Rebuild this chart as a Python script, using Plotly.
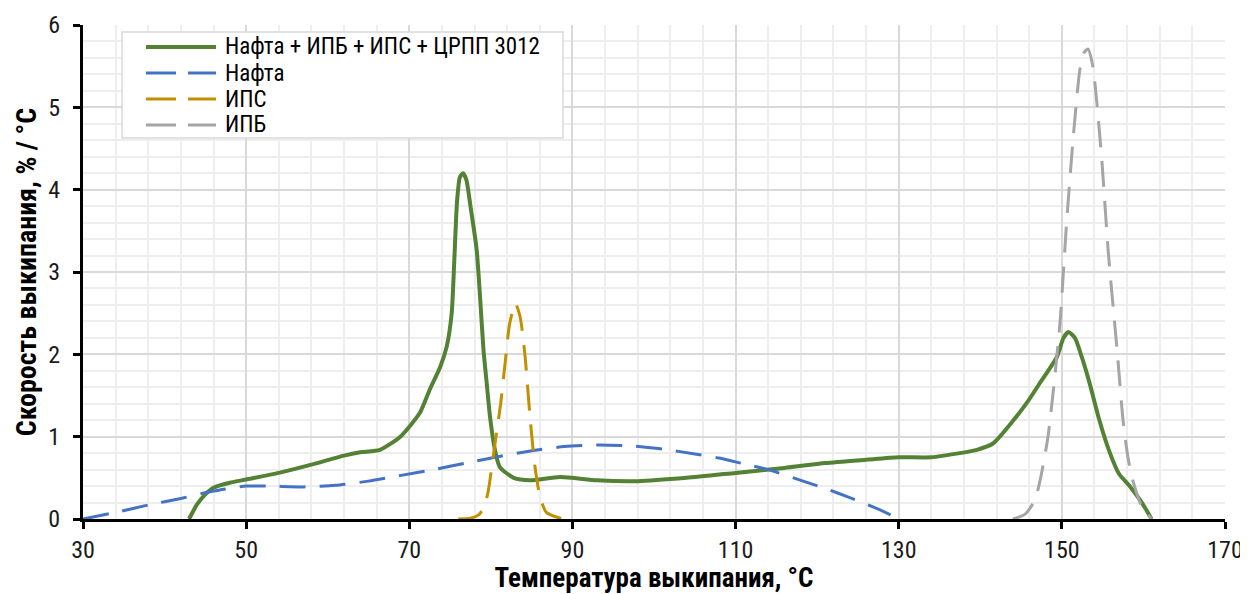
import plotly.graph_objects as go

# ---- data ----
series_names = ["Нафта + ИПБ + ИПС + ЦРПП 3012", "Нафта", "ИПС", "ИПБ"]
series_colors = ["#548235", "#4472C4", "#C09000", "#A5A5A5"]

mix_x = [43, 44, 45, 46, 48, 50, 54, 58, 62, 64, 66.4, 68.9, 71.3, 72.5, 73.8, 74.6, 75.2, 75.5, 75.85,
         76.2, 76.6, 77.0, 77.5, 78.26, 78.7, 79.1, 79.5, 79.9, 80.5, 81.1, 82.8, 84.8, 88.5, 93, 98, 104,
         110, 116, 121, 126, 130, 134, 137.5, 139.6, 141.6, 143.5, 145.7, 147.5, 149.4, 150.2, 150.8,
         151.6, 152.5, 153.4, 154.6, 155.9, 157, 158.4, 159.8, 161]
mix_y = [0, 0.18, 0.3, 0.38, 0.44, 0.48, 0.56, 0.66, 0.77, 0.81, 0.84, 1.0, 1.29, 1.57, 1.85, 2.1, 2.5,
         3.1, 3.85, 4.15, 4.2, 4.12, 3.8, 3.27, 2.66, 2.05, 1.64, 1.24, 0.84, 0.63, 0.5, 0.47, 0.51, 0.47,
         0.46, 0.5, 0.56, 0.62, 0.68, 0.72, 0.75, 0.75, 0.8, 0.84, 0.92, 1.13, 1.41, 1.68, 1.97, 2.2,
         2.27, 2.2, 1.95, 1.65, 1.2, 0.8, 0.55, 0.39, 0.2, 0]

nafta_x = [30, 34, 38, 42, 46, 50, 53, 57, 61, 65, 69, 73, 77, 81, 85, 89, 93, 97, 101, 105, 108,
           111, 114, 118, 121, 124, 127, 129]
nafta_y = [0, 0.08, 0.17, 0.25, 0.34, 0.4, 0.4, 0.39, 0.41, 0.46, 0.53, 0.6, 0.68, 0.76, 0.83, 0.88,
           0.9, 0.89, 0.85, 0.79, 0.74, 0.67, 0.6, 0.47, 0.37, 0.26, 0.14, 0.05]

ips_x = [76, 77.5, 78.5, 79.2, 79.7, 80.2, 80.7, 81.2, 81.7, 82.3, 83.0, 83.6, 84.2, 84.8, 85.4, 86.0,
         86.8, 88.8]
ips_y = [0, 0.01, 0.05, 0.15, 0.35, 0.7, 1.05, 1.4, 1.85, 2.37, 2.62, 2.45, 1.97, 1.24, 0.64, 0.28,
         0.08, 0]

ipb_x = [144, 145.5, 146.7, 147.5, 148.3, 149.0, 149.8, 150.6, 151.4, 152.2, 152.7, 153.2, 153.7,
         154.1, 154.9, 155.7, 156.8, 157.5, 158.1, 158.7, 159.8, 161]
ipb_y = [0, 0.06, 0.23, 0.55, 1.0, 1.6, 2.42, 3.63, 4.64, 5.45, 5.66, 5.71, 5.55, 5.25, 4.36, 3.23,
         2.02, 1.2, 0.75, 0.47, 0.15, 0]

x_ticks = [30, 50, 70, 90, 110, 130, 150, 170]
y_ticks = [0, 1, 2, 3, 4, 5, 6]
x_title = "Температура выкипания, °C"
y_title = "Скорость выкипания, % / °C"

FONT = "Liberation Sans Narrow, Arial Narrow, Roboto Condensed, Liberation Sans, sans-serif"
DASH = "26px,14px"

fig = go.Figure()
all_series = [(mix_x, mix_y, "solid", 4), (nafta_x, nafta_y, DASH, 3),
              (ips_x, ips_y, DASH, 3), (ipb_x, ipb_y, DASH, 3)]
for (xs, ys, dash, w), name, col in zip(all_series, series_names, series_colors):
    fig.add_trace(go.Scatter(x=xs, y=ys, mode="lines", name=name,
                             line=dict(color=col, width=w, dash=dash, shape="spline", smoothing=0.6),
                             showlegend=False))

# ---- custom legend (box, sample lines, labels) ----
L0, L1 = 0.0342, 0.4203
T0, T1 = 0.7713, 0.9858
fig.add_shape(type="rect", xref="paper", yref="paper", x0=L0, x1=L1, y0=T0, y1=T1,
              line=dict(color="#d9d9d9", width=1.5), fillcolor="white", layer="above")
row_y = [0.9555, 0.9028, 0.8502, 0.7976]
for i, (name, col) in enumerate(zip(series_names, series_colors)):
    fig.add_shape(type="line", xref="paper", yref="paper", x0=0.0552, x1=0.1165,
                  y0=row_y[i], y1=row_y[i], layer="above",
                  line=dict(color=col, width=4 if i == 0 else 3,
                            dash="solid" if i == 0 else "30px,12px"))
    fig.add_annotation(xref="paper", yref="paper", x=0.1226, y=row_y[i], text=name,
                       showarrow=False, xanchor="left", yanchor="middle",
                       font=dict(family=FONT, size=23, color="#000000"))

# page body has an 8px margin, so the figure is sized to fit the 1248x594 window
fig.update_layout(
    width=1240, height=586,
    margin=dict(l=75, r=23, t=17, b=75),
    paper_bgcolor="white", plot_bgcolor="white",
    font=dict(family=FONT, size=24, color="#1a1a1a"),
)
fig.update_xaxes(
    range=[30, 170], tickvals=x_ticks, ticktext=[str(v) for v in x_ticks],
    automargin=False,
    showgrid=True, gridcolor="#d9d9d9", gridwidth=1.5,
    minor=dict(dtick=4, tick0=30, showgrid=True, gridcolor="#eeeeee", gridwidth=1.5),
    showline=True, linecolor="#000000", linewidth=3,
    ticks="outside", ticklen=7, tickwidth=3, tickcolor="#000000",
    tickfont=dict(family=FONT, size=24, color="#1a1a1a"),
    title=dict(text="<b>" + x_title + "</b>", standoff=4,
               font=dict(family=FONT, size=27, color="#000000")),
    zeroline=False,
)
fig.update_yaxes(
    range=[0, 6], tickvals=y_ticks, ticktext=[str(v) for v in y_ticks],
    automargin=False, ticklabelstandoff=8,
    showgrid=True, gridcolor="#d9d9d9", gridwidth=1.5,
    minor=dict(dtick=0.2, tick0=0, showgrid=True, gridcolor="#eeeeee", gridwidth=1.5),
    showline=True, linecolor="#000000", linewidth=3,
    ticks="outside", ticklen=7, tickwidth=3, tickcolor="#000000",
    tickfont=dict(family=FONT, size=24, color="#1a1a1a"),
    title=dict(text="<b>" + y_title + "</b>", standoff=4,
               font=dict(family=FONT, size=28, color="#000000")),
    zeroline=False,
)

fig.write_html("out.html")
